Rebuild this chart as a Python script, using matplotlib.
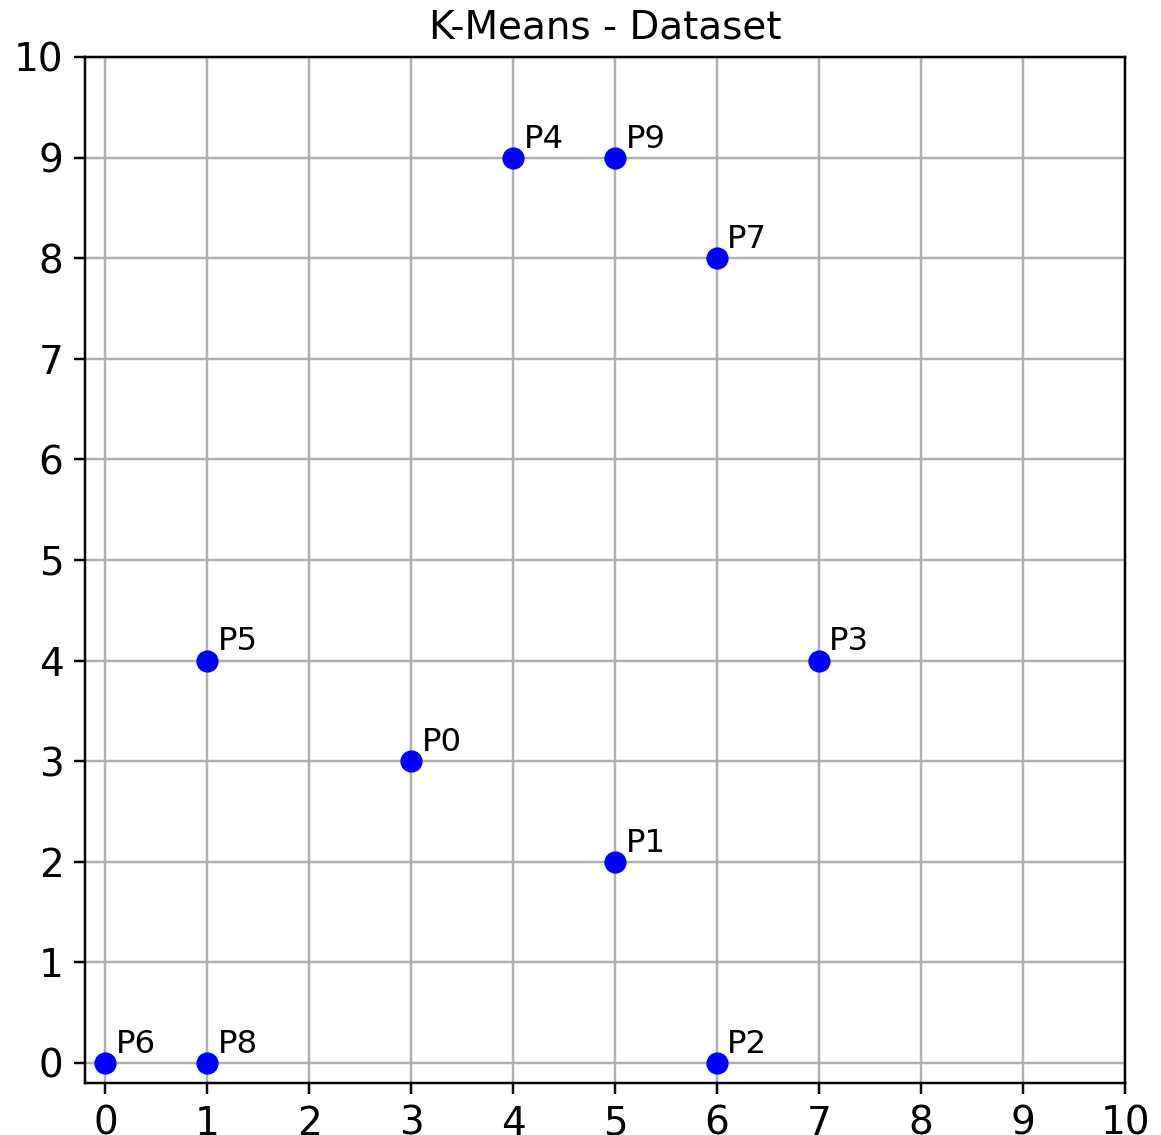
import matplotlib.pyplot as plt

names = ['P0', 'P1', 'P2', 'P3', 'P4', 'P5', 'P6', 'P7', 'P8', 'P9']
xs = [3, 5, 6, 7, 4, 1, 0, 6, 1, 5]
ys = [3, 2, 0, 4, 9, 4, 0, 8, 0, 9]

fig = plt.figure(figsize=(1161 / 222, 1135 / 222), dpi=222)
ax = fig.add_axes([85 / 1161, 1 - 1083 / 1135, 1040 / 1161, 1026 / 1135])

ax.plot(xs, ys, 'bo', markersize=6.2)
for name, x, y in zip(names, xs, ys):
    ax.text(x + 0.1, y + 0.1, name, fontsize=10.5)

ax.set_xlim(-0.2, 10)
ax.set_ylim(-0.2, 10)
ax.set_xticks(range(11))
ax.set_yticks(range(11))
ax.tick_params(labelsize=12.6)
ax.grid(True)
ax.set_title("K-Means - Dataset", fontsize=12.6)

fig.savefig('out.png', dpi=222)
